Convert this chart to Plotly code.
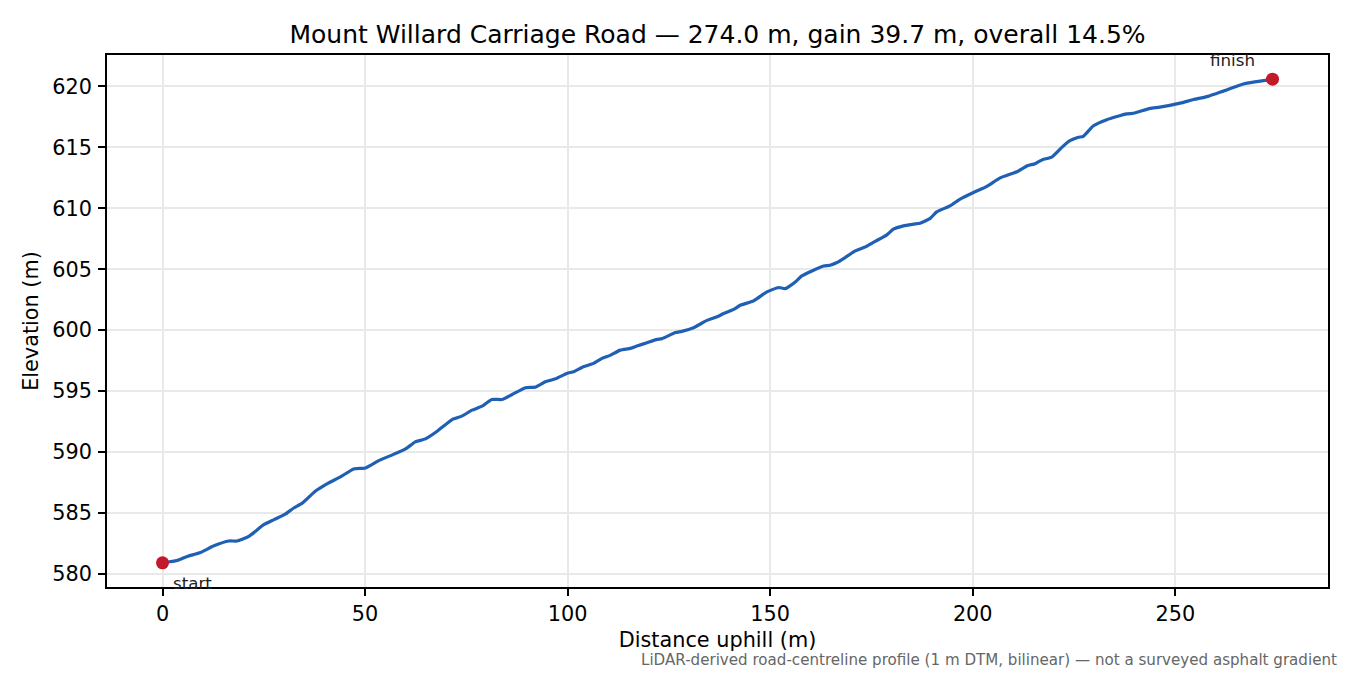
import plotly.graph_objects as go

# ---- data ----
distance_m = [0, 3.6, 6.1, 9.4, 12.7, 16.4, 18.4, 21.3, 25.0, 27.5, 30.3, 32.4, 34.5, 37.7,
              40.6, 43.9, 47.2, 50.1, 53.4, 56.3, 60.0, 62.4, 64.9, 67.8, 71.5, 73.9, 76.4,
              78.9, 81.3, 83.8, 86.3, 89.6, 92.0, 94.5, 97.0, 99.8, 101.5, 103.9, 106.4,
              108.5, 110.5, 113.0, 115.5, 117.1, 119.6, 122.1, 123.3, 126.6, 128.2, 131.1,
              134.4, 136.9, 138.5, 141.0, 142.6, 145.9, 149.2, 152.1, 153.7, 156.2, 157.8,
              160.3, 163.2, 164.8, 166.5, 168.5, 171.0, 173.5, 175.9, 178.8, 180.4, 182.9,
              185.4, 187.0, 189.5, 191.1, 194.4, 196.9, 200.2, 203.5, 206.8, 210.9, 213.5,
              215.4, 217.2, 219.5, 222.0, 224.0, 226.1, 227.3, 229.8, 233.1, 238.0, 239.7,
              243.8, 246.2, 251.2, 254.5, 257.8, 262.7, 266.8, 270.1, 274.0]
elevation_m = [580.9, 581.09, 581.42, 581.75, 582.30, 582.69, 582.69, 583.07, 584.03, 584.44,
               584.9, 585.4, 585.8, 586.77, 587.38, 587.95, 588.6, 588.69, 589.29, 589.7,
               590.25, 590.83, 591.07, 591.7, 592.66, 592.94, 593.43, 593.76, 594.31, 594.31,
               594.72, 595.27, 595.32, 595.76, 596.0, 596.45, 596.59, 597.0, 597.27, 597.68,
               597.93, 598.36, 598.5, 598.69, 598.97, 599.24, 599.3, 599.8, 599.9, 600.2,
               600.8, 601.1, 601.36, 601.7, 602.04, 602.4, 603.14, 603.5, 603.41, 603.96,
               604.45, 604.86, 605.27, 605.33, 605.55, 605.96, 606.5, 606.83, 607.28, 607.82,
               608.29, 608.56, 608.7, 608.78, 609.17, 609.71, 610.2, 610.76, 611.3, 611.8,
               612.5, 613.0, 613.5, 613.66, 613.99, 614.2, 615.0, 615.55, 615.83, 615.91,
               616.78, 617.28, 617.75, 617.8, 618.2, 618.3, 618.63, 618.93, 619.17, 619.72,
               620.21, 620.4, 620.6]
x_ticks = [0, 50, 100, 150, 200, 250]
y_ticks = [580, 585, 590, 595, 600, 605, 610, 615, 620]
end_labels = ["start", "finish"]

FONT = "DejaVu Sans"
LINE_C = "#1f5fb4"
DOT_C = "#c21a2b"

length = distance_m[-1]
gain = elevation_m[-1] - elevation_m[0]
title = f"Mount Willard Carriage Road \u2014 {length:.1f} m, gain {gain:.1f} m, overall {100*gain/length:.1f}%"

# matplotlib-like 5% margins
xpad = 0.05 * (distance_m[-1] - distance_m[0])
ypad = 0.05 * (max(elevation_m) - min(elevation_m))

W, H = 1342, 667  # page body has an 8px margin

fig = go.Figure()
fig.add_trace(go.Scatter(x=distance_m, y=elevation_m, mode="lines",
                         line=dict(color=LINE_C, width=3.2, shape="spline", smoothing=0.5),
                         showlegend=False, hoverinfo="skip"))
fig.add_trace(go.Scatter(x=[distance_m[0], distance_m[-1]],
                         y=[elevation_m[0], elevation_m[-1]], mode="markers",
                         marker=dict(color=DOT_C, size=13), showlegend=False))

fig.add_annotation(x=distance_m[0], y=elevation_m[0], text=end_labels[0], showarrow=False,
                   xanchor="left", yanchor="middle", xshift=8, yshift=-20,
                   font=dict(family=FONT, size=16.7, color="#222222"))
fig.add_annotation(x=distance_m[-1], y=elevation_m[-1], text=end_labels[1], showarrow=False,
                   xanchor="center", yanchor="middle", xshift=-40, yshift=19.5,
                   font=dict(family=FONT, size=16.7, color="#222222"))

fig.add_annotation(xref="paper", yref="paper", x=1.0088, y=-0.137,
                   text="LiDAR-derived road-centreline profile (1 m DTM, bilinear) \u2014 not a surveyed asphalt gradient",
                   showarrow=False, xanchor="right", yanchor="middle",
                   font=dict(family=FONT, size=15.1, color="#666666"))

axis_common = dict(showline=True, mirror=True, linecolor="black", linewidth=1.7,
                   ticks="outside", ticklen=7, tickwidth=1.6, tickcolor="black",
                   showgrid=True, gridcolor="#e9e9e9", gridwidth=1.6, zeroline=False,
                   tickfont=dict(family=FONT, size=20.8, color="black"))

fig.update_layout(
    width=W, height=H,
    margin=dict(l=99, r=22, t=47, b=88),
    paper_bgcolor="white", plot_bgcolor="white",
    font=dict(family=FONT, color="black"),
    title=dict(text=title, x=0.5, xref="paper", xanchor="center",
               y=1 - 26.5 / H, yref="container", yanchor="middle",
               font=dict(family=FONT, size=25, color="black")),
    xaxis=dict(range=[distance_m[0] - xpad, distance_m[-1] + xpad], tickvals=x_ticks,
               title=dict(text="Distance uphill (m)", standoff=8,
                          font=dict(family=FONT, size=20.8, color="black")),
               **axis_common),
    yaxis=dict(range=[min(elevation_m) - ypad, max(elevation_m) + ypad], tickvals=y_ticks,
               ticklabelstandoff=2,
               title=dict(text="Elevation (m)", standoff=8,
                          font=dict(family=FONT, size=20.8, color="black")),
               **axis_common),
)

fig.write_html("out.html")
